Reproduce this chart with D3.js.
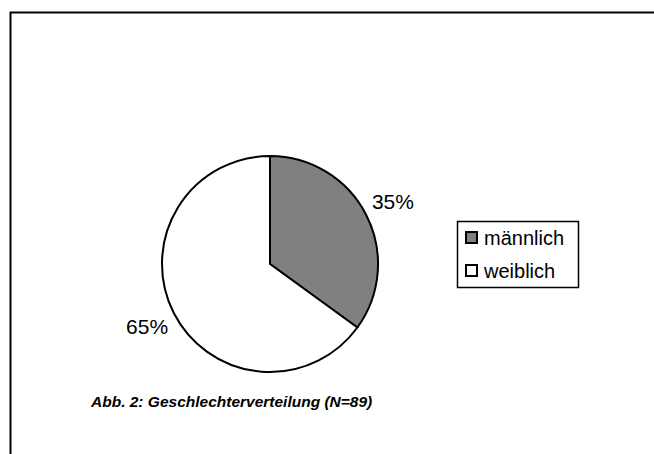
<!DOCTYPE html>
<html>

<head>
    <meta charset="utf-8">
    <style>
        body {
            margin: 0;
            background: white;
        }

        svg {
            display: block;
            font-family: 'Liberation Sans', Arial, sans-serif;
        }
    </style>
</head>

<body>
    <svg width="654" height="454"></svg>

    <script src="https://d3js.org/d3.v7.min.js"></script>
    <script>
        // Geschlechterverteilung (N=89), Anteile in Prozent
        let categories = ["männlich", "weiblich"];
        let values = [35, 65];
        let colors = ["#808080", "#ffffff"];
        let caption = "Abb. 2: Geschlechterverteilung (N=89)";

        let data = categories.map((c, i) => ({ name: c, value: values[i], color: colors[i] }));

        let svg = d3.select("svg");

        // frame (only top and left edge are visible in the crop)
        svg.append("path")
            .attr("d", "M10.5,460 V12.5 H660")
            .style("fill", "none")
            .style("stroke", "#000")
            .style("stroke-width", 2);

        let cx = 270, cy = 264, r = 108;

        let pie = d3.pie().sort(null).value(d => d.value);
        let arc = d3.arc().innerRadius(0).outerRadius(r);
        let labelArc = d3.arc().innerRadius(138).outerRadius(138);

        let g = svg.append("g").attr("transform", `translate(${cx},${cy})`);

        g.selectAll(".slice")
            .data(pie(data))
            .join("path")
            .attr("class", "slice")
            .attr("d", arc)
            .style("fill", d => d.data.color)
            .style("stroke", "#000")
            .style("stroke-width", 2)
            .style("stroke-linejoin", "round");

        g.selectAll(".label")
            .data(pie(data))
            .join("text")
            .attr("class", "label")
            .attr("transform", d => `translate(${labelArc.centroid(d)})`)
            .attr("text-anchor", "middle")
            .attr("dy", "0.36em")
            .style("font-size", "21px")
            .text(d => d.data.value + "%");

        // legend
        let legend = svg.append("g").attr("transform", "translate(457,221)");

        legend.append("rect")
            .attr("x", 0.5)
            .attr("y", 0.5)
            .attr("width", 121)
            .attr("height", 66)
            .style("fill", "white")
            .style("stroke", "#000")
            .style("stroke-width", 1.5);

        let items = legend.selectAll(".item")
            .data(data)
            .join("g")
            .attr("class", "item")
            .attr("transform", (d, i) => `translate(0,${11 + i * 33})`);

        items.append("rect")
            .attr("x", 9)
            .attr("y", 0)
            .attr("width", 11)
            .attr("height", 11)
            .style("fill", d => d.color)
            .style("stroke", "#000")
            .style("stroke-width", 2);

        items.append("text")
            .attr("x", 27)
            .attr("y", 13)
            .style("font-size", "20px")
            .text(d => d.name);

        svg.append("text")
            .attr("x", 91)
            .attr("y", 407)
            .style("font-size", "15.5px")
            .style("font-weight", "bold")
            .style("font-style", "italic")
            .text(caption);
    </script>
</body>

</html>
